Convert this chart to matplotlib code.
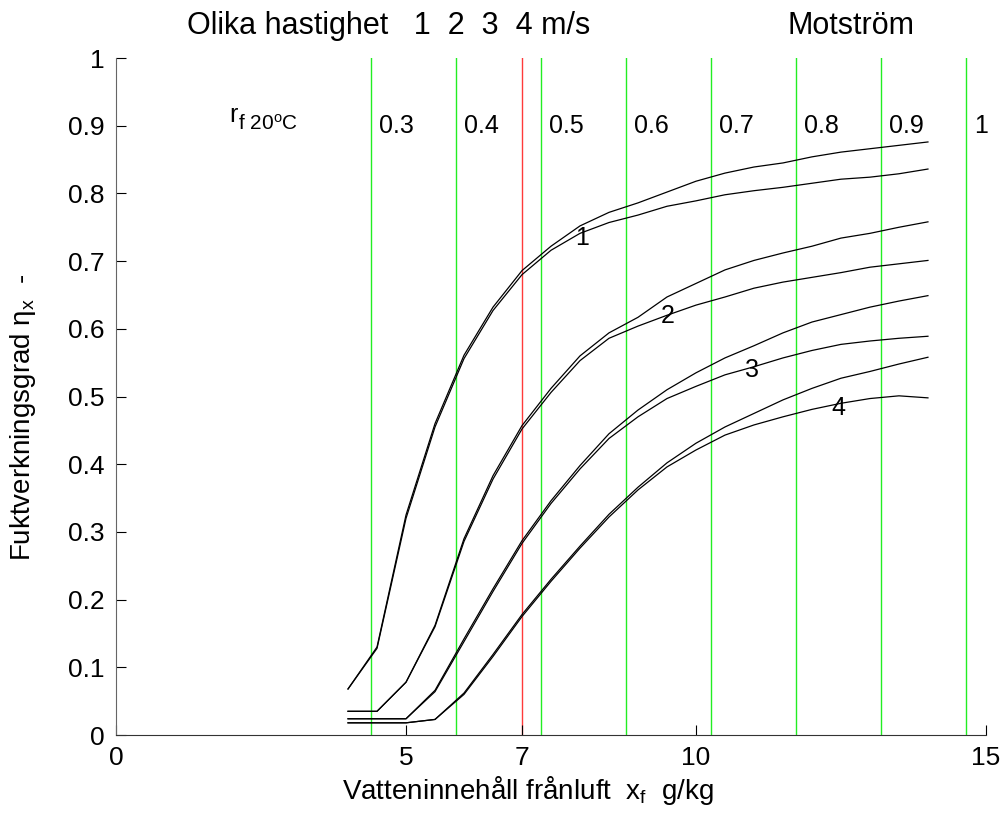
import numpy as np
import matplotlib
matplotlib.use('Agg')
import matplotlib.pyplot as plt

plt.rcParams['font.family'] = ['Liberation Sans', 'DejaVu Sans']
plt.rcParams['mathtext.fontset'] = 'custom'
plt.rcParams['mathtext.rm'] = 'Liberation Sans'
plt.rcParams['mathtext.it'] = 'Liberation Sans:italic'

# vatteninnehall franluft, g/kg
x_f = [4.0, 4.5, 5.0, 5.5, 6.0, 6.5, 7.0, 7.5, 8.0, 8.5, 9.0,
       9.5, 10.0, 10.5, 11.0, 11.5, 12.0, 12.5, 13.0, 13.5, 14.0]

# fuktverkningsgrad, two curves per hastighet (1..4 m/s)
eta_1a = [0.068, 0.13, 0.325, 0.46, 0.561, 0.632, 0.686, 0.722, 0.752, 0.772, 0.786,
          0.802, 0.818, 0.830, 0.839, 0.845, 0.854, 0.861, 0.866, 0.871, 0.876]
eta_1b = [0.068, 0.128, 0.32, 0.455, 0.556, 0.627, 0.680, 0.716, 0.741, 0.757, 0.768,
          0.781, 0.789, 0.798, 0.804, 0.809, 0.815, 0.821, 0.824, 0.829, 0.836]
eta_2a = [0.035, 0.035, 0.078, 0.162, 0.29, 0.383, 0.457, 0.512, 0.560, 0.594, 0.617,
          0.647, 0.667, 0.687, 0.701, 0.712, 0.722, 0.734, 0.741, 0.750, 0.758]
eta_2b = [0.035, 0.035, 0.078, 0.160, 0.286, 0.378, 0.452, 0.506, 0.553, 0.586, 0.604,
          0.620, 0.635, 0.647, 0.660, 0.669, 0.676, 0.683, 0.691, 0.696, 0.701]
eta_3a = [0.024, 0.024, 0.024, 0.066, 0.142, 0.216, 0.287, 0.346, 0.398, 0.445, 0.480,
          0.510, 0.535, 0.557, 0.575, 0.594, 0.610, 0.621, 0.632, 0.641, 0.649]
eta_3b = [0.024, 0.024, 0.024, 0.064, 0.138, 0.212, 0.283, 0.342, 0.393, 0.438, 0.470,
          0.497, 0.515, 0.532, 0.544, 0.557, 0.568, 0.577, 0.582, 0.586, 0.589]
eta_4a = [0.018, 0.018, 0.018, 0.023, 0.062, 0.119, 0.178, 0.230, 0.279, 0.326, 0.366,
          0.402, 0.431, 0.455, 0.475, 0.495, 0.512, 0.527, 0.537, 0.548, 0.558]
eta_4b = [0.018, 0.018, 0.018, 0.023, 0.060, 0.116, 0.175, 0.227, 0.276, 0.322, 0.362,
          0.396, 0.421, 0.443, 0.458, 0.470, 0.481, 0.490, 0.497, 0.501, 0.498]

curve_labels = ['1', '2', '3', '4']
curve_label_x = [8.03, 9.52, 10.97, 12.45]
curve_label_y = [0.734, 0.619, 0.539, 0.483]

# relativ fuktighet vid 20 C
rf_x = [4.40, 5.87, 7.33, 8.80, 10.26, 11.73, 13.19, 14.66]
rf_labels = ['0.3', '0.4', '0.5', '0.6', '0.7', '0.8', '0.9', '1']
x_red = 7.0

xticks = [0, 5, 7, 10, 15]
yticks = [0, 0.1, 0.2, 0.3, 0.4, 0.5, 0.6, 0.7, 0.8, 0.9, 1]
ytick_labels = ['0', '0.1', '0.2', '0.3', '0.4', '0.5', '0.6', '0.7', '0.8', '0.9', '1']

fig = plt.figure(figsize=(10.03, 8.24), dpi=100)
ax = fig.add_axes([0.1157, 0.108, 0.983 - 0.1157, 0.9296 - 0.108])

for xv in rf_x:
    ax.axvline(xv, color='#22ee22', lw=1.0, zorder=1)
ax.axvline(x_red, color='#ff3a3a', lw=1.0, zorder=1)

for eta in [eta_1a, eta_1b, eta_2a, eta_2b, eta_3a, eta_3b, eta_4a, eta_4b]:
    ax.plot(x_f, eta, color='black', lw=0.9, zorder=2)

for lab, lx, ly in zip(curve_labels, curve_label_x, curve_label_y):
    ax.text(lx, ly, lab, fontsize=18, ha='center', va='center')

for xv, lab in zip(rf_x, rf_labels):
    ax.text(xv + 0.13, 0.9, lab, fontsize=18, ha='left', va='center')

# r_f 20oC
ax.text(1.96, 0.905, 'r', fontsize=18, ha='left', va='baseline')
ax.annotate(r'f 20$^{\mathrm{o}}$C', xy=(1.96, 0.905), xytext=(6, -5),
            textcoords='offset points', fontsize=15, ha='left', va='baseline')

ax.text(1.23, 1.047, 'Olika hastighet   1  2  3  4 m/s', fontsize=22,
        ha='left', va='center', clip_on=False)
ax.text(12.67, 1.047, 'Motström', fontsize=22, ha='center', va='center', clip_on=False)

ax.set_xlim(0, 15)
ax.set_ylim(0, 1)
ax.set_xticks(xticks)
ax.set_yticks(yticks)
ax.set_yticklabels(ytick_labels)
ax.tick_params(direction='in', length=7, width=0.8, labelsize=19, pad=8)
ax.spines['top'].set_visible(False)
ax.spines['right'].set_visible(False)
ax.spines['left'].set_color('#666666')
ax.spines['bottom'].set_color('#333333')

ax.set_xlabel(r'Vatteninnehåll frånluft  x$_{\mathrm{f}}$  g/kg', fontsize=20)
ax.set_ylabel(r'Fuktverkningsgrad η$_{\mathrm{x}}$  -', fontsize=20)
ax.xaxis.set_label_coords(0.4736, -0.058)
ax.yaxis.set_label_coords(-0.0897, 0.47)

fig.savefig('out.png', dpi=100)
